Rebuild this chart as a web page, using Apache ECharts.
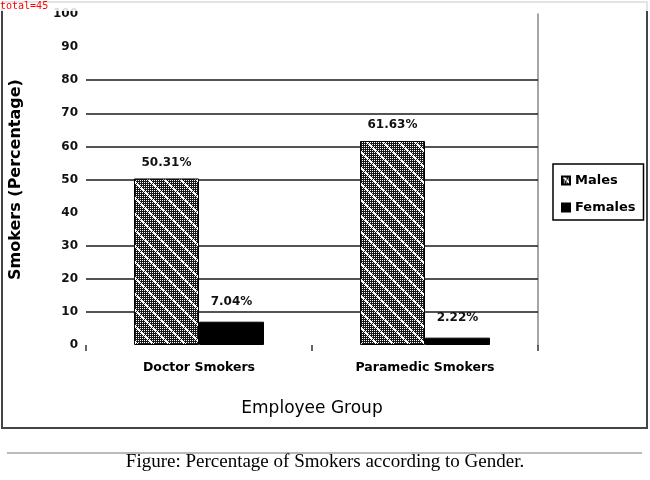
<!DOCTYPE html>
<html>
<head>
<meta charset="utf-8">
<script src="https://cdn.jsdelivr.net/npm/echarts@6/dist/echarts.min.js"></script>
<style>
html,body{margin:0;padding:0;background:#fff;}
#chart{width:650px;height:480px;}
#dbg{position:absolute;left:0;top:0;width:650px;font:10px monospace;color:red;background:rgba(255,255,255,0.85);white-space:pre-wrap;word-break:break-all;}
</style>
</head>
<body>
<div id="chart"></div>
<div id="dbg"></div>
<script>
const categories = ['Doctor Smokers', 'Paramedic Smokers'];
const seriesNames = ['Males', 'Females'];
const malesValues = [50.31, 61.63];
const femalesValues = [7.04, 2.22];
const yTicks = [0, 10, 20, 30, 40, 50, 60, 70, 80, 90, 100];
const gridLineValues = [10, 20, 30, 50, 60, 70, 80];
const captionText = 'Figure: Percentage of Smokers according to Gender.';

function makePattern() {
  const n = 16;
  const c = document.createElement('canvas');
  c.width = n; c.height = n;
  const ctx = c.getContext('2d');
  const img = ctx.createImageData(n, n);
  for (let y = 0; y < n; y++) {
    for (let x = 0; x < n; x++) {
      const d = (((x - y) % n) + n) % n;
      let white;
      if (d < 3) { white = !(d === 1 && (x % 4 === 0)); } else { white = (x % 2 === 0 && y % 2 === 0); }
      const v = white ? 255 : 25;
      const i = (y * n + x) * 4;
      img.data[i] = v; img.data[i + 1] = v; img.data[i + 2] = v; img.data[i + 3] = 255;
    }
  }
  ctx.putImageData(img, 0, 0);
  return c;
}

const chart = echarts.init(document.getElementById('chart'), null, { renderer: 'canvas' });
const FONT = 'DejaVu Sans';

const option = {
  backgroundColor: '#fff',
  animation: false,
  title: { text: captionText, left: 'center', top: 453, padding: 0,
    textStyle: { fontFamily: 'Liberation Serif', fontSize: 19, fontWeight: 'normal', color: '#000' } },
  graphic: [
    { type: 'rect', shape: { x: 2, y: 2, width: 645, height: 426 }, style: { fill: 'none', stroke: '#444', lineWidth: 2 }, silent: true },
    { type: 'line', shape: { x1: 7, y1: 453, x2: 642, y2: 453 }, style: { stroke: '#777', lineWidth: 1 }, silent: true }
  ],
  legend: { orient: 'vertical', left: 553, top: 164, padding: [10, 8, 6, 8], itemWidth: 8, itemHeight: 8, itemGap: 14,
    icon: 'rect', borderColor: '#000', borderWidth: 1.5, data: seriesNames,
    textStyle: { fontFamily: FONT, fontSize: 13, fontWeight: 'bold', color: '#000' } },
  grid: { left: 86, right: 112, top: 14, bottom: 135, containLabel: false },
  xAxis: { type: 'category', data: categories, name: 'Employee Group', nameLocation: 'middle', nameGap: 55,
    nameTextStyle: { fontFamily: FONT, fontSize: 17, color: '#000' },
    axisLine: { show: false }, splitLine: { show: false },
    axisTick: { show: true, length: 6, lineStyle: { color: '#333', width: 1.5 } },
    axisLabel: { margin: 16, fontFamily: FONT, fontSize: 12.5, fontWeight: 'bold', color: '#000' } },
  yAxis: [
    { type: 'value', min: yTicks[0], max: yTicks[yTicks.length - 1], interval: 10,
      name: 'Smokers (Percentage)', nameLocation: 'middle', nameGap: 62,
      nameTextStyle: { fontFamily: FONT, fontSize: 16, fontWeight: 'bold', color: '#000' },
      axisLine: { show: false }, axisTick: { show: false },
      axisLabel: { margin: 8, fontFamily: FONT, fontSize: 12, fontWeight: 'bold', color: '#111' },
      splitLine: { show: false } },
    { type: 'value', position: 'right', min: 0, max: 100, interval: 100,
      axisLine: { show: true, lineStyle: { color: '#888', width: 1.5 } },
      axisTick: { show: false }, axisLabel: { show: false }, splitLine: { show: false } }
  ],
  series: [
    { name: seriesNames[0], type: 'bar', data: malesValues, barWidth: 65, barGap: '0%', z: 3,
      itemStyle: { color: { image: makePattern(), repeat: 'repeat' }, borderColor: '#000', borderWidth: 1 },
      label: { show: true, position: 'top', distance: 10, formatter: p => p.value.toFixed(2) + '%',
        fontFamily: FONT, fontSize: 12, fontWeight: 'bold', color: '#111' },
      markLine: { silent: true, symbol: 'none', z: 1, label: { show: false },
        lineStyle: { type: 'solid', color: '#1a1a1a', width: 1.6 },
        data: gridLineValues.map(v => ({ yAxis: v })) } },
    { name: seriesNames[1], type: 'bar', data: femalesValues, barWidth: 65, barGap: '0%', z: 3,
      itemStyle: { color: '#000', borderColor: '#000', borderWidth: 1 },
      label: { show: true, position: 'top', distance: 14, formatter: p => p.value.toFixed(2) + '%',
        fontFamily: FONT, fontSize: 12, fontWeight: 'bold', color: '#111' } }
  ]
};
chart.setOption(option);

setTimeout(function () {
  const out = [];
  try {
    const list = chart.getZr().storage.getDisplayList(true);
    list.forEach(function (el) {
      let r;
      try { r = el.getBoundingRect().clone(); if (el.transform) r.applyTransform(el.transform); } catch (e) { return; }
      if (r.width > 200 && r.y < 230 && r.y + r.height > 195 && r.height < 30) {
        const chain = [];
        let p = el.parent;
        while (p) { chain.push((p.type || '') + ':' + (p.name || '') + (p.__ecComponentInfo ? ('{' + p.__ecComponentInfo.mainType + '}') : '')); p = p.parent; }
        out.push(el.type + ' z=' + el.z + ' z2=' + el.z2 + ' r=' + [r.x, r.y, r.width, r.height].map(v => Math.round(v)).join(',') +
          ' stroke=' + (el.style && el.style.stroke) + ' shape=' + JSON.stringify(el.shape || {}).slice(0, 160) + ' chain=' + chain.join('>'));
      }
    });
    out.push('total=' + list.length);
  } catch (e) { out.push('ERR ' + e.message); }
  document.getElementById('dbg').textContent = out.join('\n');
}, 300);
</script>
</body>
</html>
